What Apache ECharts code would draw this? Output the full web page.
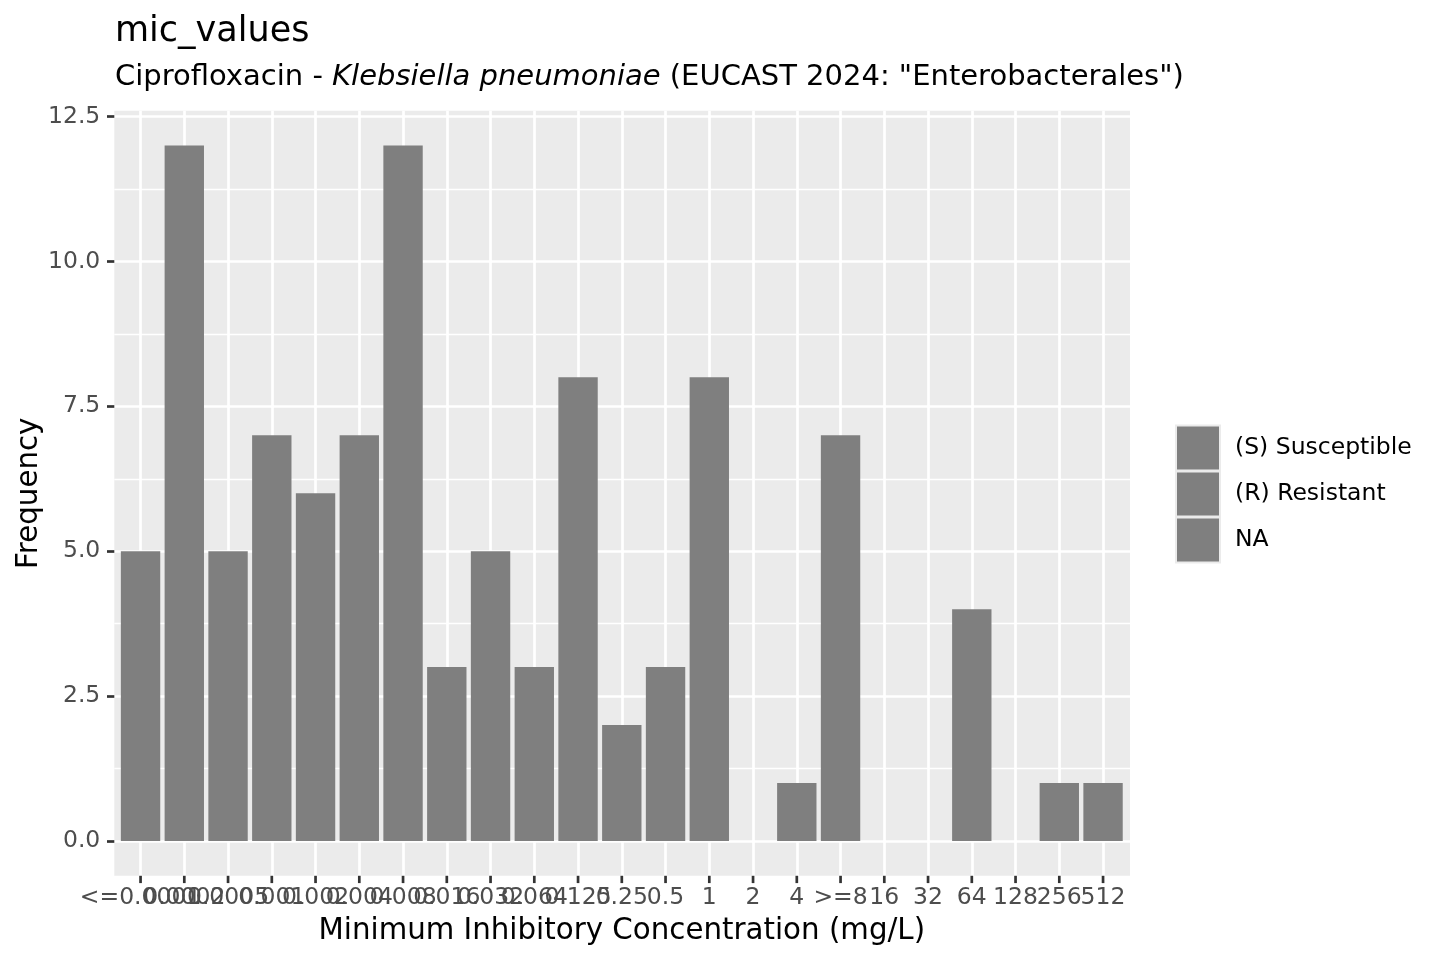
<!DOCTYPE html>
<html>
<head>
<meta charset="utf-8">
<script src="https://cdn.jsdelivr.net/npm/echarts@6/dist/echarts.min.js"></script>
<style>
html,body{margin:0;padding:0;background:#fff;}
#chart{width:1440px;height:960px;}
</style>
</head>
<body>
<div id="chart"></div>
<script>
const categories = ["<=0.0001","0.0002","0.0005","0.001","0.002","0.004","0.008","0.016","0.032","0.064","0.125","0.25","0.5","1","2","4",">=8","16","32","64","128","256","512"];
const frequency = [5,12,5,7,6,7,12,3,5,3,8,2,3,8,0,1,7,0,0,4,0,1,1];
const legendNames = ["(S) Susceptible","(R) Resistant","NA"];
const yTicks = [0, 2.5, 5, 7.5, 10, 12.5];

const FONT = 'DejaVu Sans';
const GREY = '#7F7F7F';

const chart = echarts.init(document.getElementById('chart'), null, {renderer:'canvas'});

const P = {left:114.3, top:110.7, width:1015.7, height:765.1};
const catStep = 43.75;
const D = {top:116.5, height:724.5};
const TICK = 7.3;

const option = {
  backgroundColor:'#ffffff',
  animation:false,
  title:[
    {text:'mic_values', left:110, top:9,
     textStyle:{fontFamily:FONT, fontSize:35, fontWeight:'normal', color:'#000'}},
    {text:'Ciprofloxacin - {i|Klebsiella pneumoniae} (EUCAST 2024: "Enterobacterales")', left:110, top:58,
     textStyle:{fontFamily:FONT, fontSize:29, fontWeight:'normal', color:'#000',
       rich:{i:{fontFamily:FONT, fontSize:29, fontStyle:'italic', color:'#000'}}}}
  ],
  legend:{
    orient:'vertical', left:1170, top:419.5, itemGap:-1,
    itemWidth:44, itemHeight:45, icon:'rect', selectedMode:false,
    data:legendNames,
    itemStyle:{borderColor:'#EBEBEB', borderWidth:2, color:GREY},
    textStyle:{fontFamily:FONT, fontSize:23.5, color:'#000', padding:[0,0,0,10]}
  },
  grid:[
    {left:P.left, top:P.top, width:P.width, height:P.height, show:true, backgroundColor:'#EBEBEB', borderWidth:0},
    {left:P.left, top:D.top, width:P.width, height:D.height, show:false},
    {left:P.left + 0.6*catStep, top:P.top, width:22*catStep, height:P.height, show:false},
    {left:P.left + 0.6*catStep, top:D.top, width:22*catStep, height:D.height, show:false},
    {left:P.left + 0.6*catStep, top:P.top + P.height - 20, width:22*catStep, height:40, show:false}
  ],
  xAxis:[
    {gridIndex:0, type:'value', min:0, max:1, show:false},
    {gridIndex:1, type:'value', min:0, max:1, show:false},
    {gridIndex:2, type:'category', data:categories, boundaryGap:false,
     name:'Minimum Inhibitory Concentration (mg/L)', nameLocation:'middle', nameGap:41,
     nameTextStyle:{fontFamily:FONT, fontSize:29.3, color:'#000'},
     axisLine:{show:false},
     axisTick:{show:false},
     axisLabel:{interval:0, margin:10, fontFamily:FONT, fontSize:23.5, color:'#4D4D4D'},
     splitLine:{show:true, interval:0, lineStyle:{color:'#FFFFFF', width:2.7}}},
    {gridIndex:3, type:'category', data:categories, boundaryGap:false, show:false},
    {gridIndex:4, type:'category', data:categories, boundaryGap:false, show:false}
  ],
  yAxis:[
    {gridIndex:0, type:'value', min:0, max:1,
     name:'Frequency', nameLocation:'middle', nameGap:70,
     nameTextStyle:{fontFamily:FONT, fontSize:29.3, color:'#000'},
     axisLine:{show:false}, axisTick:{show:false}, axisLabel:{show:false}, splitLine:{show:false}},
    {gridIndex:1, type:'value', min:yTicks[0], max:yTicks[yTicks.length-1], interval:2.5,
     axisLine:{show:false},
     axisTick:{show:true, length:TICK, lineStyle:{color:'#333333', width:2.7}},
     axisLabel:{margin:14, fontFamily:FONT, fontSize:23.5, color:'#4D4D4D', formatter:v=>v.toFixed(1)},
     splitLine:{show:true, lineStyle:{color:'#FFFFFF', width:2.7}},
     minorTick:{show:false, splitNumber:2},
     minorSplitLine:{show:true, lineStyle:{color:'#FFFFFF', width:1.35}}},
    {gridIndex:2, type:'value', min:0, max:1, show:false},
    {gridIndex:3, type:'value', min:yTicks[0], max:yTicks[yTicks.length-1], show:false},
    {gridIndex:4, type:'value', min:-1, max:1, show:false}
  ],
  series:[
    {name:legendNames[0], type:'bar', xAxisIndex:3, yAxisIndex:3, stack:'all', data:[], itemStyle:{color:GREY}, barWidth:'90%', clip:false},
    {name:legendNames[1], type:'bar', xAxisIndex:3, yAxisIndex:3, stack:'all', data:[], itemStyle:{color:GREY}, barWidth:'90%', clip:false},
    {name:legendNames[2], type:'bar', xAxisIndex:3, yAxisIndex:3, stack:'all', data:frequency, itemStyle:{color:GREY}, barWidth:'90%', clip:false},
    {name:'xticks', type:'scatter', xAxisIndex:4, yAxisIndex:4, silent:true, clip:false, z:10,
     symbol:'rect', symbolSize:[2.7, TICK], symbolOffset:[0, TICK/2],
     itemStyle:{color:'#333333', opacity:1},
     data:categories.map(c => [c, 0])}
  ]
};
chart.setOption(option);
</script>
</body>
</html>
